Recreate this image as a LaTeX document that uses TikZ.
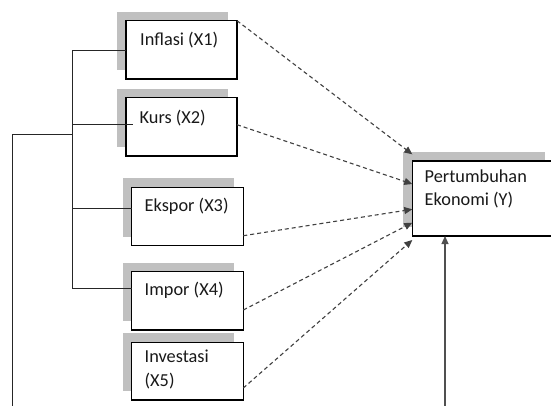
\documentclass[tikz,border=0pt]{standalone}
\usepackage{fontspec}
\setmainfont{Carlito}
\usetikzlibrary{arrows.meta,shadows,calc}
\definecolor{shadowgray}{HTML}{C0C0C0}
\definecolor{dashgray}{HTML}{404040}
\definecolor{arrgray}{HTML}{505050}
\tikzset{
  varbox/.style={draw=black, line width=1.1pt, fill=white, anchor=north west,
    inner sep=0pt, outer sep=0pt,
    general shadow={fill=shadowgray, shadow xshift=-9pt, shadow yshift=9pt}},
  lbl/.style={anchor=base west, inner sep=0pt, text=black!90, font=\fontsize{18.3}{22}\selectfont},
  tree/.style={draw=black!85, line width=1pt},
  infl/.style={draw=dashgray, line width=1.1pt, dash pattern=on 4pt off 3pt,
    -{Triangle[length=8pt,width=7pt]}},
  upar/.style={draw=arrgray, line width=1.2pt, -{Triangle[length=8pt,width=7pt]}}
}
\begin{document}
\begin{tikzpicture}[x=1pt,y=-1pt]
\clip (0,0) rectangle (551,405);
\fill[white] (0,0) rectangle (551,405);
% boxes
\node[varbox, minimum width=111pt, minimum height=58.3pt] (X1) at (126,20.7) {};
\node[varbox, minimum width=111pt, minimum height=58.3pt] (X2) at (126,97.7) {};
\node[varbox, minimum width=111.6pt, minimum height=58.4pt] (X3) at (131.7,187.3) {};
\node[varbox, minimum width=111.6pt, minimum height=58.3pt] (X4) at (131.7,271.7) {};
\node[varbox, minimum width=111.6pt, minimum height=57.7pt] (X5) at (131.7,342.3) {};
\node[varbox, minimum width=142pt, minimum height=75pt] (Y) at (412.3,161) {};
% labels
\node[lbl] (t1) at (140,45) {Inflasi (X1)};
\node[lbl] (t2) at (139.5,123.3) {Kurs (X2)};
\node[lbl] (t3) at (144.5,211) {Ekspor (X3)};
\node[lbl] (t4) at (144.5,295) {Impor (X4)};
\node[lbl] (t5a) at (144.5,362.3) {Investasi};
\node[lbl] (t5b) at (144.5,386.7) {(X5)};
\node[lbl] (ty1) at (424.5,182.7) {Pertumbuhan};
\node[lbl] (ty2) at (424.5,205) {Ekonomi (Y)};
% tree connectors
\coordinate (tr1) at (72.3,50.7);
\coordinate (tr2) at (72.3,124.7);
\coordinate (tr3) at (72.3,208.3);
\coordinate (tr4) at (72.3,288.3);
\coordinate (lt) at (12.3,134.3);
\coordinate (lj) at (72.3,134.3);
\coordinate (lb) at (12.3,406);
\path[tree] (tr1) -- (tr4);
\path[tree] (tr1) -- (tr1 -| X1.west);
\path[tree] (tr2) -- (132.7,124.7);
\path[tree] (tr3) -- (tr3 -| X3.west);
\path[tree] (tr4) -- (tr4 -| X4.west);
\path[tree] (lj) -- (lt) -- (lb);
% dashed influence arrows
\coordinate (y1) at (412.3,154.3);
\coordinate (y2) at (412.3,184);
\coordinate (y3) at (412.3,209.3);
\coordinate (y4) at (412.3,222.7);
\coordinate (y5) at (412.3,240);
\path[infl] (X1.north east) -- (y1);
\path[infl] (237,124.7) -- (y2);
\path[infl] ([yshift=10pt]X3.south east) -- (y3);
\path[infl] ([yshift=20pt]X4.south east) -- (y4);
\path[infl] ([yshift=12pt]X5.south east) -- (y5);
% bottom arrow
\coordinate (yb) at (445,406);
\path[upar] (yb) -- (yb |- Y.south);
\end{tikzpicture}
\end{document}
